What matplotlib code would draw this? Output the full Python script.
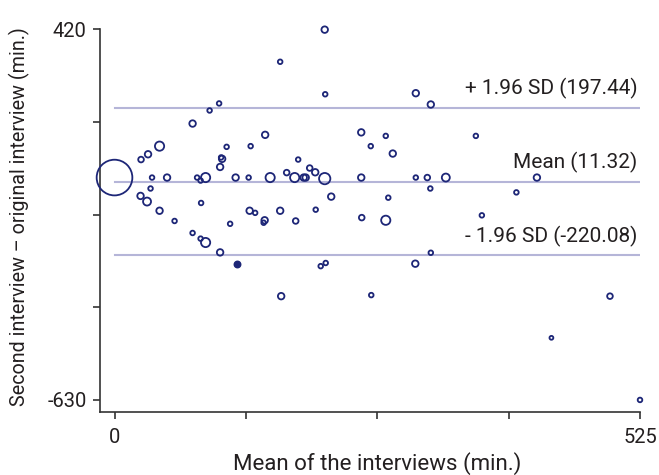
import matplotlib
matplotlib.use("Agg")
import matplotlib.pyplot as plt

# Mean of the two interviews (min.)
mean_min = [
    0, 165.5, 104.5, 95, 78, 150.5, 45, 112, 136, 33.5, 26.5, 107.5, 106.5,
    105.5, 37.5, 52.5, 82.5, 86, 91, 121, 134, 155.5, 36, 26, 32.5, 86.5,
    45, 135, 140.5, 165.5, 210, 210.5, 301, 316, 246.5, 271, 256, 278,
    183.5, 172, 195, 200.5, 180, 189, 191, 210, 246.5, 301, 312.5, 331,
    315.5, 216.5, 273.5, 201, 361, 422, 401.5, 367, 60, 78, 86, 91, 115.5,
    105.5, 150, 149, 166.5, 181, 247, 271, 316, 206, 211, 300.5, 256.5,
    495, 436.5, 525,
]
# Second interview minus original interview (min.)
diff_min = [
    0, 328, 210, 190, 153, 121, 89, 87, 89, 66, 51, 53, 57,
    30, 0, 0, 0, -8.5, 0, 0, 0, 0, -31, -52, -68, -72,
    -94, -94, -100, -94, 419, 236, 239, 207, 128, 118, 89, 68,
    51, 14, 27, 15, 0, 0, 0, -3, 0, 0, 0, 0,
    -31, -54, -57, -91, 118, 0, -42, -107, -123, -157, -173, -184, -131,
    -212, -121, -128, -336, -123, -113.5, -121, -213, -251, -242, -244, -333,
    -336, -454, -630,
]
# Number of coinciding observations (bubble size)
n_obs = [
    60, 1, 1, 1, 2, 2, 4, 1, 1, 2, 1.5, 2, 1,
    2, 1, 2, 1, 1, 4, 2, 1, 4, 1, 2, 3, 1,
    2, 2, 1, 2, 2, 1, 2, 2, 2, 1, 1, 2,
    1, 1.5, 1.5, 2, 4, 2, 2, 6, 2, 1, 1.5, 3,
    1, 2, 1, 1, 1, 2, 1, 1, 1, 1, 1, 4, 1,
    2, 2, 1, 2, 1.5, 1.5, 4, 1, 1, 1, 2, 1,
    1.5, 0.7, 1,
]
# single filled observation
filled_x = [122]
filled_y = [-246]

mean_diff = -11.32
upper_loa = 197.44
lower_loa = -220.08
line_labels = ["+ 1.96 SD (197.44)", "Mean (11.32)", "- 1.96 SD (-220.08)"]

x_ticks = [0, 131.25, 262.5, 393.75, 525]
x_ticklabels = ["0", "", "", "", "525"]
y_ticks = [420, 157.5, -105, -367.5, -630]
y_ticklabels = ["420", "", "", "", "-630"]

navy = "#1d2677"
line_col = "#b5b5d8"
text_col = "#231f20"

plt.rcParams["font.family"] = ["Roboto", "DejaVu Sans"]

fig = plt.figure(figsize=(6.59, 4.75), dpi=100)
ax = fig.add_axes([100 / 659, (475 - 412.3) / 475, 540 / 659, 383 / 475])

# limits of agreement and mean
for yv, lab in zip([upper_loa, mean_diff, lower_loa], line_labels):
    ax.plot([0, 525], [yv, yv], color=line_col, lw=1.5, zorder=1)
    ax.annotate(lab, xy=(525, yv), xytext=(-2, 9.5), textcoords="offset points",
                ha="right", va="baseline", fontsize=15, color=text_col)

ax.scatter(mean_min, diff_min, s=[11 * n for n in n_obs], facecolors="none",
           edgecolors=navy, linewidths=1.3, zorder=3, clip_on=False)
ax.scatter(filled_x, filled_y, s=22, color=navy, zorder=3)

ax.set_xlim(-14.5, 525)
ax.set_ylim(-665, 420)
ax.set_xticks(x_ticks)
ax.set_xticklabels(x_ticklabels)
ax.set_yticks(y_ticks)
ax.set_yticklabels(y_ticklabels)
ax.tick_params(direction="out", length=5, width=1.2, labelsize=14.5,
               labelcolor=text_col, color="#333333")
ax.tick_params(axis="x", pad=6)
ax.tick_params(axis="y", pad=4.5)

for side in ["top", "right"]:
    ax.spines[side].set_visible(False)
for side in ["left", "bottom"]:
    ax.spines[side].set_color("#333333")
    ax.spines[side].set_linewidth(1.2)

ax.set_xlabel("Mean of the interviews (min.)", fontsize=16, color=text_col)
ax.set_ylabel("Second interview \u2013 original interview (min.)", fontsize=14.2,
              color=text_col)
ax.xaxis.set_label_coords(0.514, -0.104)
ax.yaxis.set_label_coords(-0.13, 0.512)

fig.savefig("out.png", dpi=100)
